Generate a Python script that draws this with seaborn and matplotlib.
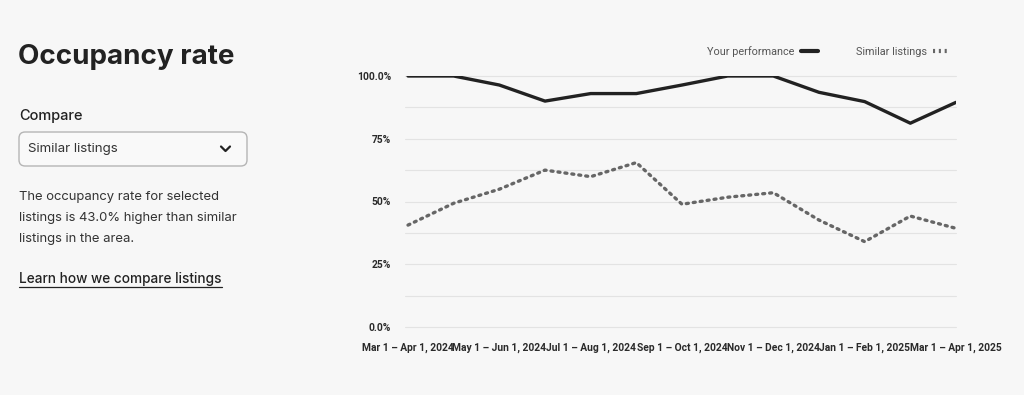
import matplotlib
matplotlib.use("Agg")
import matplotlib.pyplot as plt
import seaborn as sns
import pandas as pd
import numpy as np
from matplotlib.lines import Line2D
from matplotlib.patches import FancyBboxPatch

# data
months = ['Mar 2024', 'Apr 2024', 'May 2024', 'Jun 2024', 'Jul 2024', 'Aug 2024', 'Sep 2024',
          'Oct 2024', 'Nov 2024', 'Dec 2024', 'Jan 2025', 'Feb 2025', 'Mar 2025']
your_performance = [100, 100, 96.4, 90, 93, 93, 96.4, 100, 100, 93.5, 89.8, 81.2, 89.5]
similar_listings = [40.6, 49.3, 54.9, 62.5, 59.9, 65.5, 48.9, 51.7, 53.5, 42.6, 34.0, 44.2, 39.3]
tick_labels = ['Mar 1 – Apr 1, 2024', 'May 1 – Jun 1, 2024', 'Jul 1 – Aug 1, 2024',
               'Sep 1 – Oct 1, 2024', 'Nov 1 – Dec 1, 2024', 'Jan 1 – Feb 1, 2025',
               'Mar 1 – Apr 1, 2025']
y_ticks = [0, 25, 50, 75, 100]
y_tick_labels = ['0.0%', '25%', '50%', '75%', '100.0%']

bg = '#f7f7f7'
sns.set_theme(style='white', rc={'axes.facecolor': bg, 'figure.facecolor': bg})
plt.rcParams['font.family'] = ['Inter', 'DejaVu Sans']
small_font = ['Roboto', 'DejaVu Sans']

W, H = 1024, 395
fig = plt.figure(figsize=(W / 100, H / 100), dpi=100)

def fx(px):
    return px / W

def fy(py):
    return 1 - py / H

ax = fig.add_axes([fx(405), fy(327), fx(956) - fx(405), fy(76) - fy(327)])

df = pd.DataFrame({'idx': np.arange(len(months)), 'month': months,
                   'Your performance': your_performance,
                   'Similar listings': similar_listings})

for y in np.arange(0, 101, 12.5):
    ax.axhline(y, color='#e3e3e3', lw=0.8, zorder=0, clip_on=False)

sns.lineplot(data=df, x='idx', y='Your performance', ax=ax, color='#222222', lw=2.4,
             solid_capstyle='round', solid_joinstyle='round', legend=False)
sns.lineplot(data=df, x='idx', y='Similar listings', ax=ax, color='#666666', lw=2.4,
             linestyle=(0, (0.6, 1.5)), dash_capstyle='round', legend=False)

ax.set_xlim(-0.066, 12)
ax.set_ylim(0, 100)
for s in ax.spines.values():
    s.set_visible(False)
ax.set_xlabel('')
ax.set_ylabel('')
ax.set_yticks(y_ticks)
ax.set_yticklabels(y_tick_labels)
ax.set_xticks(df['idx'][::2])
ax.set_xticklabels(tick_labels)
ax.tick_params(axis='y', length=0, pad=10)
ax.tick_params(axis='x', length=0, pad=11)
for t in ax.get_yticklabels() + ax.get_xticklabels():
    t.set_family(small_font)
    t.set_fontsize(7.4)
    t.set_fontweight('bold')
    t.set_color('#2a2a2a')

handles = [Line2D([0], [0], color='#222222', lw=3),
           Line2D([0], [0], color='#666666', lw=3, linestyle=(0, (0.5, 0.9)))]
leg = ax.legend(handles, ['Your performance', 'Similar listings'], loc='upper right',
                bbox_to_anchor=(fx(959), fy(36)), bbox_transform=fig.transFigure,
                ncol=2, frameon=False, markerfirst=False, handlelength=1.5,
                handletextpad=0.6, columnspacing=3.5,
                prop={'family': small_font, 'size': 7.8})
for t in leg.get_texts():
    t.set_color('#555555')

# left panel
fig.text(fx(18), fy(57), 'Occupancy rate', fontsize=20, fontweight='bold', color='#222222',
         va='center', ha='left')
fig.text(fx(19), fy(116), 'Compare', fontsize=10.5, fontweight='medium', color='#222222',
         va='center', ha='left')
box = FancyBboxPatch((fx(19), fy(166)), fx(247) - fx(19), fy(132) - fy(166),
                     boxstyle='round,pad=0,rounding_size=0.006', mutation_aspect=W / H,
                     transform=fig.transFigure,
                     facecolor='#f9f9f9', edgecolor='#b5b5b5', lw=1)
fig.add_artist(box)
fig.text(fx(28), fy(149), 'Similar listings', fontsize=9.6, color='#333333',
         va='center', ha='left')
fig.add_artist(Line2D([fx(221), fx(225.5), fx(230)], [fy(146.5), fy(151), fy(146.5)],
                      transform=fig.transFigure, color='#222222', lw=1.6,
                      solid_capstyle='round', solid_joinstyle='round'))
para = ['The occupancy rate for selected',
        'listings is 43.0% higher than similar',
        'listings in the area.']
for i, line in enumerate(para):
    fig.text(fx(19), fy(197 + 21 * i), line, fontsize=9.4, color='#333333',
             va='center', ha='left')
link = fig.text(fx(19), fy(279), 'Learn how we compare listings', fontsize=9.8,
                fontweight='medium', color='#222222', va='center', ha='left')

fig.canvas.draw()
bb = link.get_window_extent().transformed(fig.transFigure.inverted())
fig.add_artist(Line2D([bb.x0, bb.x1], [bb.y0 - 0.002, bb.y0 - 0.002],
                      transform=fig.transFigure, color='#222222', lw=0.9))

fig.savefig('out.png', dpi=100, facecolor=bg)
